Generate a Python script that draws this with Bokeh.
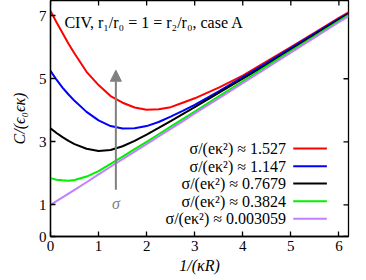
from bokeh.plotting import figure
from bokeh.models import Range1d, FixedTicker, Label, Arrow, NormalHead
from bokeh.embed import file_html
from bokeh.resources import INLINE

# ---- data ----
x_vals = [0, 0.125, 0.25, 0.375, 0.5, 0.75, 1.0, 1.25, 1.5, 1.75, 2.0, 2.25,
          2.5, 2.75, 3.0, 3.5, 4.0, 4.5, 5.0, 5.5, 6.0, 6.2]
red = [7.15, 6.79, 6.45, 6.11, 5.8, 5.22, 4.8, 4.45, 4.24, 4.09, 4.02, 4.03,
       4.1, 4.24, 4.38, 4.72, 5.1, 5.55, 6.0, 6.46, 6.93, 7.1]
blue = [5.25, 4.97, 4.72, 4.5, 4.3, 3.95, 3.68, 3.5, 3.42, 3.43, 3.5, 3.63,
        3.8, 3.98, 4.17, 4.6, 5.05, 5.5, 5.97, 6.44, 6.9, 7.07]
black = [3.43, 3.28, 3.15, 3.03, 2.93, 2.78, 2.71, 2.74, 2.86, 3.03, 3.23, 3.44,
         3.66, 3.88, 4.1, 4.55, 5.0, 5.45, 5.92, 6.4, 6.87, 7.05]
green = [1.85, 1.8, 1.78, 1.77, 1.79, 1.9, 2.07, 2.3, 2.53, 2.77, 3.0, 3.24,
         3.48, 3.72, 3.96, 4.44, 4.92, 5.4, 5.88, 6.35, 6.83, 7.02]
purple = [1.0, 1.12, 1.24, 1.36, 1.48, 1.72, 1.97, 2.21, 2.45, 2.69, 2.93, 3.17,
          3.41, 3.65, 3.9, 4.38, 4.86, 5.34, 5.83, 6.31, 6.79, 6.98]
series_labels = ["σ/(eκ²) ≈ 1.527", "σ/(eκ²) ≈ 1.147", "σ/(eκ²) ≈ 0.7679",
                 "σ/(eκ²) ≈ 0.3824", "σ/(eκ²) ≈ 0.003059"]
series_colors = ["#ff0000", "#0000ff", "#000000", "#00f000", "#c080ff"]
x_ticks = [0, 1, 2, 3, 4, 5, 6]
y_ticks = [0, 1, 3, 5, 7]

FONT = "Liberation Serif"
X0, X1, Y0, Y1 = 0.0, 6.2, 0.0, 7.48
W, H = 362, 278
FRAME_W, FRAME_H = 298, 236
p = figure(width=W, height=H, output_backend="svg", toolbar_location=None,
           x_range=Range1d(X0, X1), y_range=Range1d(Y0, Y1),
           min_border_left=48, min_border_right=W - 48 - FRAME_W,
           min_border_top=1, min_border_bottom=H - 1 - FRAME_H,
           margin=(-1, 0, 0, 2))
p.background_fill_color = "white"
p.border_fill_color = "white"
p.outline_line_color = "black"
p.outline_line_width = 1.3
p.xgrid.visible = False
p.ygrid.visible = False

for ax, ticks in ((p.xaxis[0], x_ticks), (p.yaxis[0], y_ticks)):
    ax.ticker = FixedTicker(ticks=ticks)
    ax.major_tick_in = 5
    ax.major_tick_out = 0
    ax.minor_tick_line_color = None
    ax.major_label_text_font = FONT
    ax.major_label_text_font_size = "15px"
    ax.major_label_text_color = "black"
    ax.axis_label_text_font = FONT
    ax.axis_label_text_font_size = "16px"
    ax.axis_label_text_font_style = "italic"
    ax.axis_label_text_color = "black"
    ax.axis_line_width = 1.3
    ax.major_tick_line_width = 1.3
    ax.major_label_standoff = 4
p.xaxis.axis_label = "1/(κR)"
p.yaxis.axis_label = "C/(ϵ₀ϵκ)"
p.xaxis.axis_label_standoff = 3
p.yaxis.axis_label_standoff = 8

# mirrored inward ticks on the top and right edges of the frame
tick_len_y = 5 * (Y1 - Y0) / FRAME_H
tick_len_x = 5 * (X1 - X0) / FRAME_W
p.segment(x0=x_ticks, y0=[Y1] * len(x_ticks), x1=x_ticks,
          y1=[Y1 - tick_len_y] * len(x_ticks), line_color="black", line_width=1.3)
p.segment(x0=[X1] * len(y_ticks), y0=y_ticks, x1=[X1 - tick_len_x] * len(y_ticks),
          y1=y_ticks, line_color="black", line_width=1.3)

for ys, col in zip([red, blue, black, green, purple], series_colors):
    p.line(x_vals, ys, line_color=col, line_width=2)

# legend drawn in gnuplot style: text right-aligned, sample line to its right
leg_text_x = 4.9
leg_line_x0, leg_line_x1 = 5.05, 5.75
leg_rows = [2.79, 2.23, 1.68, 1.12, 0.56]
for lab, col, ry in zip(series_labels, series_colors, leg_rows):
    p.add_layout(Label(x=leg_text_x, y=ry, text=lab, text_align="right",
                       text_baseline="middle", text_font=FONT,
                       text_font_size="16px", text_color="black"))
    p.segment(x0=[leg_line_x0], y0=[ry], x1=[leg_line_x1], y1=[ry],
              line_color=col, line_width=2)

p.add_layout(Label(x=0.29, y=6.77, text="CIV, r₁/r₀ = 1 = r₂/r₀, case A",
                   text_baseline="middle", text_font=FONT,
                   text_font_size="16px", text_color="black"))

arrow_color = "#808080"
p.add_layout(Arrow(end=NormalHead(size=11, fill_color=arrow_color,
                                  line_color=arrow_color),
                   x_start=1.36, y_start=1.48, x_end=1.36, y_end=5.27,
                   line_color=arrow_color, line_width=2))
p.add_layout(Label(x=1.36, y=1.05, text="σ", text_align="center",
                   text_baseline="middle", text_font=FONT,
                   text_font_size="16px", text_font_style="italic",
                   text_color=arrow_color))

open("out.html", "w").write(file_html(p, INLINE))
